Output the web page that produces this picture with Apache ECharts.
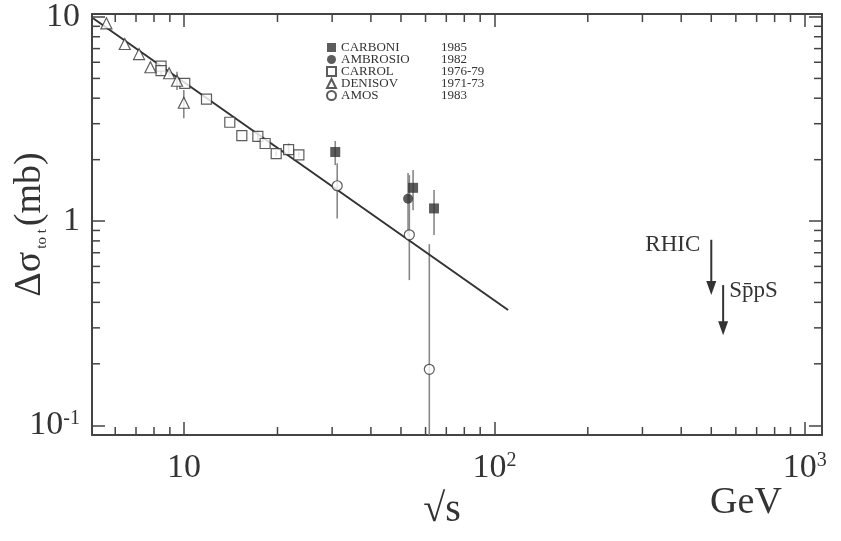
<!DOCTYPE html>
<html>
<head>
<meta charset="utf-8">
<script src="https://cdn.jsdelivr.net/npm/echarts@6/dist/echarts.min.js"></script>
<style>
  html, body { margin: 0; padding: 0; background: #fff; }
  #chart { width: 841px; height: 541px; }
</style>
</head>
<body>
<div id="chart"></div>
<script>
// axis ranges: sqrt(s) in GeV, delta sigma_tot in mb
const xRange = [5.05, 1137]
const yRange = [0.0896, 10.34]
const xMinorTicks = [6, 7, 8, 9, 20, 30, 40, 50, 60, 70, 80, 90, 200, 300, 400, 500, 600, 700, 800, 900]
const yMinorTicks = [0.2, 0.3, 0.4, 0.5, 0.6, 0.7, 0.8, 0.9, 2, 3, 4, 5, 6, 7, 8, 9]

// data sets
const carboniX = [30.7, 54.7, 63.9]
const carboniY = [2.18, 1.456, 1.154]
const carboniLo = [1.88, 1.13, 0.854]
const carboniHi = [2.47, 1.78, 1.419]

const ambrosioX = [52.7]
const ambrosioY = [1.286]
const ambrosioLo = [0.85]
const ambrosioHi = [1.72]

const carrolX = [8.43, 8.43, 10.05, 11.81, 14.04, 15.35, 17.29, 18.25, 19.81, 21.72, 23.44]
const carrolY = [5.75, 5.46, 4.73, 3.96, 3.05, 2.62, 2.60, 2.40, 2.14, 2.24, 2.11]
const carrolLo = [5.75, 5.19, 4.73, 3.96, 3.05, 2.62, 2.45, 2.40, 2.08, 2.10, 2.05]
const carrolHi = [5.75, 5.82, 4.73, 3.96, 3.05, 2.62, 2.77, 2.40, 2.20, 2.40, 2.18]

const denisovX = [5.62, 6.44, 7.16, 7.79, 8.95, 9.49, 9.98]
const denisovY = [9.31, 7.37, 6.58, 5.67, 5.30, 4.87, 3.80]
const denisovLo = [9.31, 7.37, 6.58, 5.67, 5.10, 4.39, 3.19]
const denisovHi = [9.31, 7.37, 6.58, 5.67, 5.50, 5.39, 4.39]

const amosX = [31.15, 53.2, 61.7]
const amosY = [1.49, 0.857, 0.188]
const amosLo = [1.03, 0.514, 0.0896]
const amosHi = [1.92, 1.68, 0.771]

const fitX = [5.09, 110.7]
const fitY = [9.85, 0.367]

const names = ['CARBONI', 'AMBROSIO', 'CARROL', 'DENISOV', 'AMOS']
const years = ['1985', '1982', '1976-79', '1971-73', '1983']

// machine energies marked with arrows
const arrowNames = ['RHIC', 'Sp\u0304pS']
const arrowX = [500, 546]
const arrowTop = [0.81, 0.486]
const arrowBottom = [0.434, 0.276]

const FONT = '"Liberation Serif", "DejaVu Serif", serif'
const INK = '#333'

const zip = (xs, ys) => xs.map((x, i) => [x, ys[i]])

const powLabel = (v) => {
  const e = Math.round(Math.log10(v))
  if (Math.abs(Math.log10(v) - e) > 1e-6) return ''
  if (e === 1) return '{b|10}'
  if (e === 0) return '{b|1}'
  return '{b|10}{s|' + e + '}'
}

const labelRich = {
  b: { fontFamily: FONT, fontSize: 34, color: INK, lineHeight: 34 },
  s: { fontFamily: FONT, fontSize: 20, color: INK, lineHeight: 34, verticalAlign: 'top', padding: [0, 0, 16, 0] }
}

const frame = { show: true, onZero: false, lineStyle: { color: '#444', width: 2 } }
const majorTick = { show: true, inside: true, length: 13, lineStyle: { color: '#444', width: 1.5 } }

function errorBars(xs, lo, hi) {
  return {
    type: 'custom',
    silent: true,
    z: 1,
    data: xs.map((x, i) => [x, lo[i], hi[i]]),
    encode: { x: 0, y: [1, 2] },
    renderItem: (params, api) => {
      const a = api.coord([api.value(0), api.value(1)])
      const b = api.coord([api.value(0), api.value(2)])
      return {
        type: 'line',
        shape: { x1: a[0], y1: a[1], x2: b[0], y2: b[1] },
        style: { stroke: '#888', lineWidth: 1.6 }
      }
    }
  }
}

function points(name, xs, ys, symbol, size, filled) {
  return {
    name,
    type: 'scatter',
    z: 3,
    symbol,
    symbolSize: size,
    data: zip(xs, ys),
    itemStyle: filled
      ? { color: INK }
      : { color: '#fff', borderColor: INK, borderWidth: 1.2 }
  }
}

const chart = echarts.init(document.getElementById('chart'))

chart.setOption({
  animation: false,
  backgroundColor: '#fff',
  grid: { left: 92, right: 19, top: 14, bottom: 106, outerBoundsMode: 'none', containLabel: false },
  xAxis: [
    {
      type: 'log', min: xRange[0], max: xRange[1], position: 'bottom',
      axisLine: frame, axisTick: majorTick, splitLine: { show: false },
      axisLabel: { formatter: powLabel, margin: 16, rich: labelRich, showMinLabel: true, showMaxLabel: true, hideOverlap: false }
    },
    {
      type: 'log', min: xRange[0], max: xRange[1], position: 'top',
      axisLine: frame, axisTick: majorTick, splitLine: { show: false },
      axisLabel: { show: false }
    }
  ],
  yAxis: [
    {
      type: 'log', min: yRange[0], max: yRange[1], position: 'left',
      axisLine: frame, axisTick: majorTick, splitLine: { show: false },
      axisLabel: { formatter: powLabel, margin: 12, rich: labelRich },
      name: '{a|\u0394\u03c3}{t|to t}{a|(mb)}',
      nameLocation: 'middle', nameRotate: 90, nameGap: 42, nameMoveOverlap: false,
      nameTextStyle: {
        rich: {
          a: { fontFamily: FONT, fontSize: 38, color: INK, lineHeight: 40 },
          t: { fontFamily: FONT, fontSize: 15, color: INK, lineHeight: 40, verticalAlign: 'bottom', padding: [0, 3, 0, 3] }
        }
      }
    },
    {
      type: 'log', min: yRange[0], max: yRange[1], position: 'right',
      axisLine: frame, axisTick: majorTick, splitLine: { show: false },
      axisLabel: { show: false }
    }
  ],
  legend: {
    data: names,
    orient: 'vertical',
    left: 321,
    top: 36,
    itemWidth: 9,
    itemHeight: 9,
    itemGap: -1,
    formatter: (name) => '{n|' + name + '}{y|' + years[names.indexOf(name)] + '}',
    textStyle: {
      fontFamily: FONT, fontSize: 13, color: INK, lineHeight: 11,
      rich: {
        n: { fontFamily: FONT, fontSize: 13, color: INK, lineHeight: 11, width: 100 },
        y: { fontFamily: FONT, fontSize: 13, color: INK, lineHeight: 11 }
      }
    }
  },
  series: [
    errorBars(carboniX, carboniLo, carboniHi),
    errorBars(ambrosioX, ambrosioLo, ambrosioHi),
    errorBars(carrolX, carrolLo, carrolHi),
    errorBars(denisovX, denisovLo, denisovHi),
    errorBars(amosX, amosLo, amosHi),
    {
      type: 'line',
      z: 2,
      silent: true,
      symbol: 'none',
      data: zip(fitX, fitY),
      lineStyle: { color: INK, width: 2 }
    },
    points('CARBONI', carboniX, carboniY, 'rect', 10, true),
    points('AMBROSIO', ambrosioX, ambrosioY, 'circle', 10, true),
    points('CARROL', carrolX, carrolY, 'rect', 10, false),
    points('DENISOV', denisovX, denisovY, 'triangle', 11, false),
    points('AMOS', amosX, amosY, 'circle', 10, false),
    // minor ticks on bottom and top
    {
      type: 'custom',
      silent: true,
      data: xMinorTicks.map((v) => [v, yRange[0]]),
      encode: { x: 0, y: 1 },
      renderItem: (params, api) => {
        const b = api.coord([api.value(0), yRange[0]])
        const t = api.coord([api.value(0), yRange[1]])
        const st = { stroke: '#444', lineWidth: 1.5 }
        return {
          type: 'group',
          children: [
            { type: 'line', shape: { x1: b[0], y1: b[1], x2: b[0], y2: b[1] - 8 }, style: st },
            { type: 'line', shape: { x1: t[0], y1: t[1], x2: t[0], y2: t[1] + 8 }, style: st }
          ]
        }
      }
    },
    // minor ticks on left and right
    {
      type: 'custom',
      silent: true,
      data: yMinorTicks.map((v) => [xRange[0], v]),
      encode: { x: 0, y: 1 },
      renderItem: (params, api) => {
        const l = api.coord([xRange[0], api.value(1)])
        const r = api.coord([xRange[1], api.value(1)])
        const st = { stroke: '#444', lineWidth: 1.5 }
        return {
          type: 'group',
          children: [
            { type: 'line', shape: { x1: l[0], y1: l[1], x2: l[0] + 8, y2: l[1] }, style: st },
            { type: 'line', shape: { x1: r[0], y1: r[1], x2: r[0] - 8, y2: r[1] }, style: st }
          ]
        }
      }
    },
    // RHIC / SppS arrows
    {
      type: 'custom',
      silent: true,
      z: 3,
      data: arrowX.map((x, i) => [x, arrowTop[i], arrowBottom[i]]),
      encode: { x: 0, y: [1, 2] },
      renderItem: (params, api) => {
        const i = params.dataIndex
        const a = api.coord([api.value(0), api.value(1)])
        const b = api.coord([api.value(0), api.value(2)])
        const label = i === 0
          ? { x: a[0] - 11, y: a[1] + 5, align: 'right' }
          : { x: a[0] + 6, y: a[1] + 6, align: 'left' }
        return {
          type: 'group',
          children: [
            { type: 'line', shape: { x1: a[0], y1: a[1], x2: b[0], y2: b[1] - 10 }, style: { stroke: INK, lineWidth: 2 } },
            { type: 'polygon', shape: { points: [[b[0] - 5, b[1] - 14], [b[0] + 5, b[1] - 14], [b[0], b[1]]] }, style: { fill: INK } },
            {
              type: 'text',
              style: {
                text: arrowNames[i], x: label.x, y: label.y, align: label.align, verticalAlign: 'middle',
                font: '23px ' + FONT, fill: INK
              }
            }
          ]
        }
      }
    }
  ],
  graphic: [
    { type: 'text', x: 442, y: 510, style: { text: '\u221as', font: '40px ' + FONT, fill: INK, align: 'center', verticalAlign: 'middle' } },
    { type: 'text', x: 746, y: 503, style: { text: 'GeV', font: '38px ' + FONT, fill: INK, align: 'center', verticalAlign: 'middle' } }
  ]
})
</script>
</body>
</html>
